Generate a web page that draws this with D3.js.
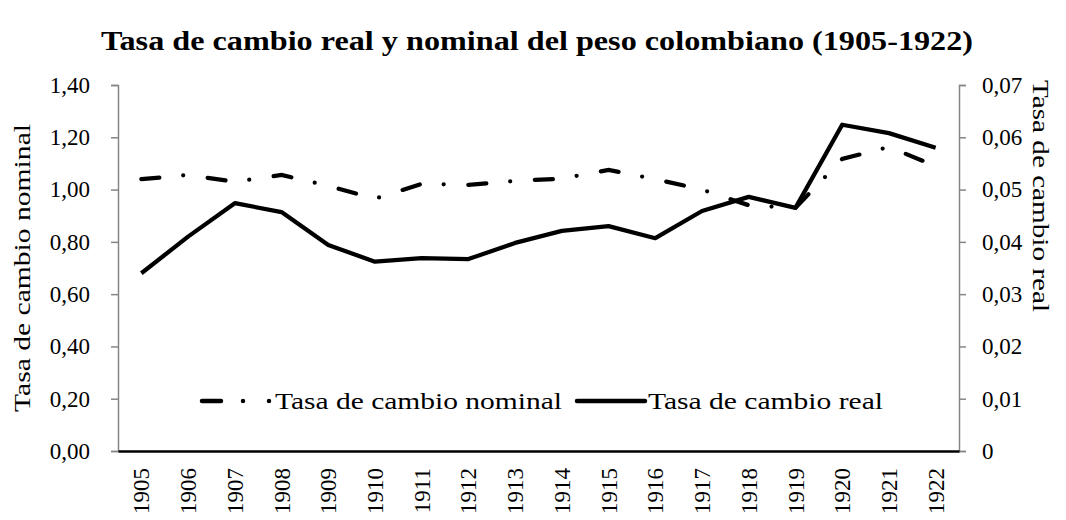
<!DOCTYPE html>
<html>
<head>
<meta charset="utf-8">
<script src="https://cdn.jsdelivr.net/npm/d3@7"></script>
<style>
  body { margin: 0; background: #fff; }
  text { font-family: "Liberation Serif", "Times New Roman", serif; fill: #000; }
</style>
</head>
<body>
<svg id="chart"></svg>
<script>
// ===========================
// 1. Data
// ===========================
const years = ["1905","1906","1907","1908","1909","1910","1911","1912","1913",
               "1914","1915","1916","1917","1918","1919","1920","1921","1922"];
// left axis
const nominal = [1.04, 1.056, 1.03, 1.056, 1.014, 0.965, 1.022, 1.018, 1.033,
                 1.042, 1.075, 1.04, 1.0, 0.94, 0.93, 1.117, 1.163, 1.09];
// right axis
const real = [0.034, 0.041, 0.0474, 0.0457, 0.0394, 0.0362, 0.0369, 0.0367, 0.0398,
              0.0421, 0.043, 0.0407, 0.0459, 0.0486, 0.0465, 0.0624, 0.0608, 0.058];
const leftTicks = [0, 0.2, 0.4, 0.6, 0.8, 1.0, 1.2, 1.4];
const rightTicks = [0, 0.01, 0.02, 0.03, 0.04, 0.05, 0.06, 0.07];

// ===========================
// 2. Layout
// ===========================
const W = 1066, H = 520;
const plot = { left: 118, right: 959, top: 85, bottom: 451 };

const svg = d3.select("#chart")
  .attr("width", W)
  .attr("height", H);

// title
svg.append("text")
  .attr("x", 537)
  .attr("y", 50)
  .attr("text-anchor", "middle")
  .attr("textLength", 872)
  .attr("lengthAdjust", "spacingAndGlyphs")
  .style("font-size", "28px")
  .style("font-weight", "bold")
  .text("Tasa de cambio real y nominal del peso colombiano (1905-1922)");

// scales
const x = d3.scaleBand()
  .domain(years)
  .range([plot.left, plot.right])
  .padding(0);
const cx = d => x(d) + x.bandwidth() / 2;

const yL = d3.scaleLinear().domain([0, 1.4]).range([plot.bottom, plot.top]);
const yR = d3.scaleLinear().domain([0, 0.07]).range([plot.bottom, plot.top]);

const fmt2 = d3.format(".2f");
const comma = s => s.replace(".", ",");

// left axis
const axL = svg.append("g")
  .attr("transform", `translate(${plot.left},0)`)
  .call(d3.axisLeft(yL).tickValues(leftTicks).tickSize(7).tickPadding(21)
    .tickFormat(d => comma(fmt2(d))));
axL.selectAll("path, line").attr("stroke", "#868686").attr("stroke-width", 1.5);
axL.selectAll("text").style("font-size", "23px").style("font-family", "Liberation Serif");

// right axis
const axR = svg.append("g")
  .attr("transform", `translate(${plot.right},0)`)
  .call(d3.axisRight(yR).tickValues(rightTicks).tickSize(7).tickPadding(16)
    .tickFormat(d => d === 0 ? "0" : comma(fmt2(d))));
axR.selectAll("path, line").attr("stroke", "#868686").attr("stroke-width", 1.5);
axR.selectAll("text").style("font-size", "23px").style("font-family", "Liberation Serif");

// bottom axis
const axB = svg.append("g")
  .attr("transform", `translate(0,${plot.bottom})`)
  .call(d3.axisBottom(x).tickSize(0).tickSizeOuter(0));
axB.select(".domain").attr("stroke", "#000").attr("stroke-width", 2.5);
axB.selectAll("text")
  .style("font-size", "23px")
  .style("font-family", "Liberation Serif")
  .attr("text-anchor", "end")
  .attr("dy", "0.35em")
  .attr("transform", "translate(0,17) rotate(-90)")
  .attr("x", 0)
  .attr("y", 0);

// axis titles
svg.append("text")
  .attr("transform", `translate(30,${(plot.top + plot.bottom) / 2}) rotate(-90)`)
  .attr("text-anchor", "middle")
  .attr("textLength", 288)
  .attr("lengthAdjust", "spacingAndGlyphs")
  .style("font-size", "23px")
  .text("Tasa de cambio nominal");

svg.append("text")
  .attr("transform", `translate(1033,196) rotate(90)`)
  .attr("text-anchor", "middle")
  .attr("textLength", 232)
  .attr("lengthAdjust", "spacingAndGlyphs")
  .style("font-size", "23px")
  .text("Tasa de cambio real");

// ===========================
// 3. Lines
// ===========================
const lineL = d3.line().x((d, i) => cx(years[i])).y(d => yL(d));
const lineR = d3.line().x((d, i) => cx(years[i])).y(d => yR(d));

svg.append("path")
  .attr("d", lineR(real))
  .attr("fill", "none")
  .attr("stroke", "#000")
  .attr("stroke-width", 4.25)
  .attr("stroke-linejoin", "round");

svg.append("path")
  .attr("d", lineL(nominal))
  .attr("fill", "none")
  .attr("stroke", "#000")
  .attr("stroke-width", 4.25)
  .attr("stroke-linecap", "round")
  .attr("stroke-dasharray", "18,24,0,24.7");

// ===========================
// 4. Legend
// ===========================
const legY = 401;
svg.append("line")
  .attr("x1", 202).attr("x2", 270)
  .attr("y1", legY).attr("y2", legY)
  .attr("stroke", "#000")
  .attr("stroke-width", 4.5)
  .attr("stroke-linecap", "round")
  .attr("stroke-dasharray", "19,22,0,26,0,100");
svg.append("text")
  .attr("x", 275).attr("y", 409)
  .attr("textLength", 287)
  .attr("lengthAdjust", "spacingAndGlyphs")
  .style("font-size", "23px")
  .text("Tasa de cambio nominal");

svg.append("line")
  .attr("x1", 577).attr("x2", 645)
  .attr("y1", legY).attr("y2", legY)
  .attr("stroke", "#000")
  .attr("stroke-width", 4.5)
  .attr("stroke-linecap", "round");
svg.append("text")
  .attr("x", 648).attr("y", 409)
  .attr("textLength", 235)
  .attr("lengthAdjust", "spacingAndGlyphs")
  .style("font-size", "23px")
  .text("Tasa de cambio real");
</script>
</body>
</html>
